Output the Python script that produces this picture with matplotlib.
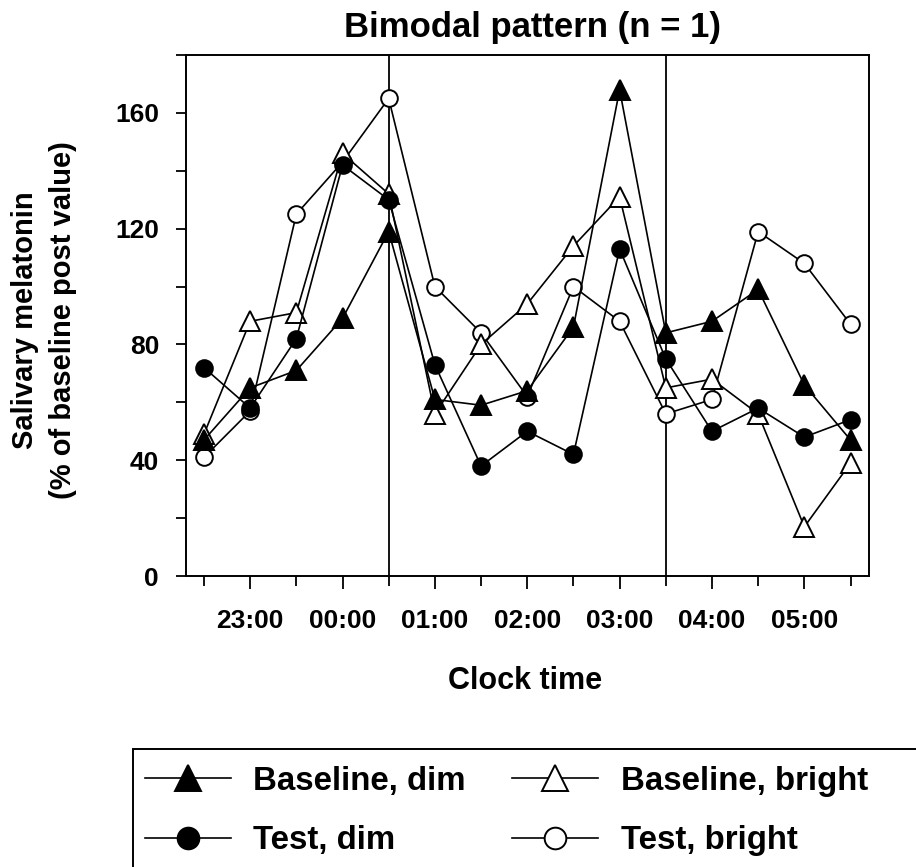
import numpy as np
import matplotlib
matplotlib.use("Agg")
import matplotlib.pyplot as plt
from matplotlib.patches import Rectangle
from matplotlib.ticker import FixedLocator, MultipleLocator

plt.rcParams['font.family'] = ['Liberation Sans', 'DejaVu Sans']
plt.rcParams['font.weight'] = 'bold'

# sampling times, every half hour
clock = ["22:30", "23:00", "23:30", "00:00", "00:30", "01:00", "01:30", "02:00",
         "02:30", "03:00", "03:30", "04:00", "04:30", "05:00", "05:30"]

# salivary melatonin, % of baseline post value
baseline_dim = [47, 65, 71, 89, 119, 61, 59, 64, 86, 168, 84, 88, 99, 66, 47]
baseline_bright = [49, 88, 91, 146, 132, 56, 80, 94, 114, 131, 65, 68, 56, 17, 39]
test_dim = [72, 58, 82, 142, 130, 73, 38, 50, 42, 113, 75, 50, 58, 48, 54]
test_bright = [41, 57, 125, 143, 165, 100, 84, 62, 100, 88, 56, 61, 119, 108, 87]

# times of the vertical marker lines
marker_times = ["00:30", "03:30"]

W, H = 916, 867
fig = plt.figure(figsize=(W / 100, H / 100), dpi=100)
ax = fig.add_axes([185.5 / W, 1 - 576 / H, (869 - 185.5) / W, (576 - 55) / H])

x = np.arange(len(clock))
lw = 1.2
for t in marker_times:
    ax.axvline(clock.index(t), color='black', lw=1.3, zorder=1)

common = dict(color='black', lw=lw, markeredgewidth=1.4, markeredgecolor='black')
ax.plot(x, test_bright, marker='o', ms=12, markerfacecolor='white',
        label='Test, bright', zorder=3, **common)
ax.plot(x, baseline_bright, marker='^', ms=14, markerfacecolor='white',
        label='Baseline, bright', zorder=3, **common)
ax.plot(x, test_dim, marker='o', ms=12, markerfacecolor='black',
        label='Test, dim', zorder=3, **common)
ax.plot(x, baseline_dim, marker='^', ms=14, markerfacecolor='black',
        label='Baseline, dim', zorder=3, **common)

ax.set_xlim(-0.4, len(clock) - 1 + 0.4)
ax.set_ylim(0, 180)

full_hours = [i for i, c in enumerate(clock) if c.endswith(":00")]
half_hours = [i for i, c in enumerate(clock) if c.endswith(":30")]
ax.xaxis.set_major_locator(FixedLocator(full_hours))
ax.xaxis.set_minor_locator(FixedLocator(half_hours))
ax.set_xticklabels([clock[i] for i in full_hours])
ax.yaxis.set_major_locator(MultipleLocator(40))
ax.yaxis.set_minor_locator(MultipleLocator(20))

ax.tick_params(axis='x', which='major', direction='out', length=9.5, width=1.3,
               pad=14, labelsize=19)
ax.tick_params(axis='x', which='minor', direction='out', length=7.5, width=1.3)
ax.tick_params(axis='y', which='both', direction='out', length=7, width=1.3,
               pad=12, labelsize=19)
for lab in ax.get_xticklabels() + ax.get_yticklabels():
    lab.set_fontweight('bold')
for sp in ax.spines.values():
    sp.set_linewidth(1.4)

fig.text(533 / W, 1 - 28 / H, "Bimodal pattern (n = 1)", ha='center', va='center',
         fontsize=25, fontweight='bold')
fig.text(525 / W, 1 - 681 / H, "Clock time", ha='center', va='center',
         fontsize=22, fontweight='bold')
fig.text(44 / W, 1 - 320 / H, "Salivary melatonin\n(% of baseline post value)",
         ha='center', va='center', rotation=90, multialignment='center',
         fontsize=21, fontweight='bold', linespacing=1.45)

# legend box, running off the right and bottom edges
fig.add_artist(Rectangle((133 / W, -0.05), 1.0, (1 - 749 / H) + 0.05,
                         transform=fig.transFigure, fill=False, lw=1.4,
                         edgecolor='black', clip_on=False))
handles, labels = ax.get_legend_handles_labels()
order = [3, 2, 1, 0]
fig.legend([handles[i] for i in order], [labels[i] for i in order],
           loc='upper left', bbox_to_anchor=(145 / W, 1 - 766 / H), ncol=2,
           frameon=False, handlelength=2.6, handletextpad=0.68,
           columnspacing=1.4, labelspacing=0.85, borderpad=0, borderaxespad=0,
           markerscale=1.3, prop={'weight': 'bold', 'size': 23.8})

fig.savefig("out.png", dpi=100)
